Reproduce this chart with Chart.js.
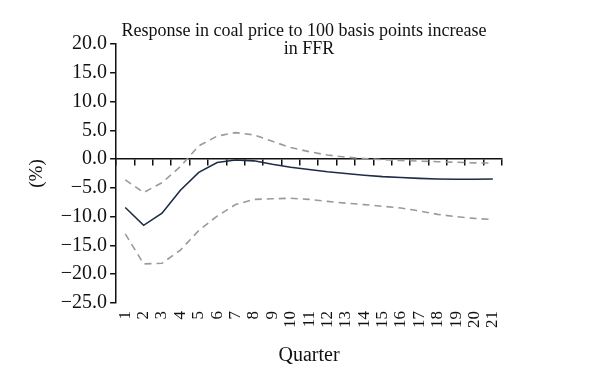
<!DOCTYPE html>
<html>
<head>
<meta charset="utf-8">
<script src="https://cdn.jsdelivr.net/npm/chart.js@4"></script>
<style>
  body { margin: 0; background: #fff; }
  #wrap { width: 600px; height: 390px; }
</style>
</head>
<body>
<div id="wrap"><canvas id="coalChart" width="600" height="390"></canvas></div>
<script>
const quarters = ["1","2","3","4","5","6","7","8","9","10","11","12","13","14","15","16","17","18","19","20","21"];
const response = [-8.4, -11.5, -9.4, -5.4, -2.3, -0.6, -0.15, -0.3, -0.9, -1.4, -1.8, -2.2, -2.5, -2.8, -3.05, -3.2, -3.35, -3.45, -3.5, -3.5, -3.45];
const upperBand = [-3.6, -5.8, -4.1, -1.3, 2.3, 4.0, 4.6, 4.2, 3.1, 2.0, 1.3, 0.7, 0.35, 0.1, -0.1, -0.25, -0.35, -0.45, -0.55, -0.65, -0.7];
const lowerBand = [-13.0, -18.2, -18.1, -15.8, -12.4, -9.9, -7.9, -7.0, -6.9, -6.8, -7.0, -7.35, -7.65, -7.9, -8.2, -8.5, -9.0, -9.6, -10.0, -10.3, -10.5];
const yTicks = [20, 15, 10, 5, 0, -5, -10, -15, -20, -25];

const serif = "'Liberation Serif', 'DejaVu Serif', serif";

// title sits over the top of the plot, not above it
const titleInside = {
    id: "titleInside",
    afterDraw(chart) {
        const ctx = chart.ctx;
        const area = chart.chartArea;
        const cx = (area.left + area.right) / 2;
        ctx.save();
        ctx.fillStyle = "#111";
        ctx.font = "18px " + serif;
        ctx.textAlign = "center";
        ctx.textBaseline = "middle";
        ctx.fillText("Response in coal price to 100 basis points increase", cx - 5, area.top - 13);
        ctx.fillText("in FFR", cx, area.top + 5);
        ctx.restore();
    }
};

new Chart(document.getElementById("coalChart"), {
    type: "line",
    data: {
        labels: quarters,
        datasets: [{
            label: "Response",
            data: response,
            borderColor: "#1e2c45",
            borderWidth: 1.6,
            pointRadius: 0,
            tension: 0
        }, {
            label: "Upper",
            data: upperBand,
            borderColor: "#9a9a9a",
            borderWidth: 1.6,
            borderDash: [7, 5],
            pointRadius: 0,
            tension: 0
        }, {
            label: "Lower",
            data: lowerBand,
            borderColor: "#9a9a9a",
            borderWidth: 1.6,
            borderDash: [7, 5],
            pointRadius: 0,
            tension: 0
        }]
    },
    options: {
        responsive: false,
        animation: false,
        layout: { padding: { top: 44, right: 98, left: 22, bottom: 18 } },
        plugins: { legend: { display: false }, tooltip: { enabled: false } },
        scales: {
            x: {
                type: "category",
                position: "bottom",
                offset: true,
                border: { display: false },
                grid: { display: false },
                ticks: {
                    autoSkip: false,
                    maxRotation: 90,
                    minRotation: 90,
                    color: "#111",
                    padding: 0,
                    font: { family: serif, size: 17 }
                },
                title: {
                    display: true,
                    text: "Quarter",
                    color: "#111",
                    padding: { top: 16 },
                    font: { family: serif, size: 20 }
                }
            },
            xZero: {
                type: "category",
                labels: quarters,
                position: { y: 0 },
                offset: true,
                border: { display: true, color: "#111", width: 1.5 },
                grid: { offset: true, drawOnChartArea: false, drawTicks: true, tickLength: 6, color: "#111", lineWidth: 1.5 },
                ticks: { display: false }
            },
            y: {
                min: -25,
                max: 20,
                afterBuildTicks(scale) {
                    scale.ticks = yTicks.map(v => ({ value: v }));
                },
                border: { display: true, color: "#111", width: 1.5 },
                grid: { drawOnChartArea: false, drawTicks: true, tickLength: 6, color: "#111", lineWidth: 1.5 },
                ticks: {
                    color: "#111",
                    padding: 3,
                    font: { family: serif, size: 20 },
                    callback: v => (v < 0 ? "\u2212" + Math.abs(v).toFixed(1) : v.toFixed(1))
                },
                title: {
                    display: true,
                    text: "(%)",
                    color: "#111",
                    padding: { bottom: 9 },
                    font: { family: serif, size: 19 }
                }
            }
        }
    },
    plugins: [titleInside]
});
</script>
</body>
</html>
